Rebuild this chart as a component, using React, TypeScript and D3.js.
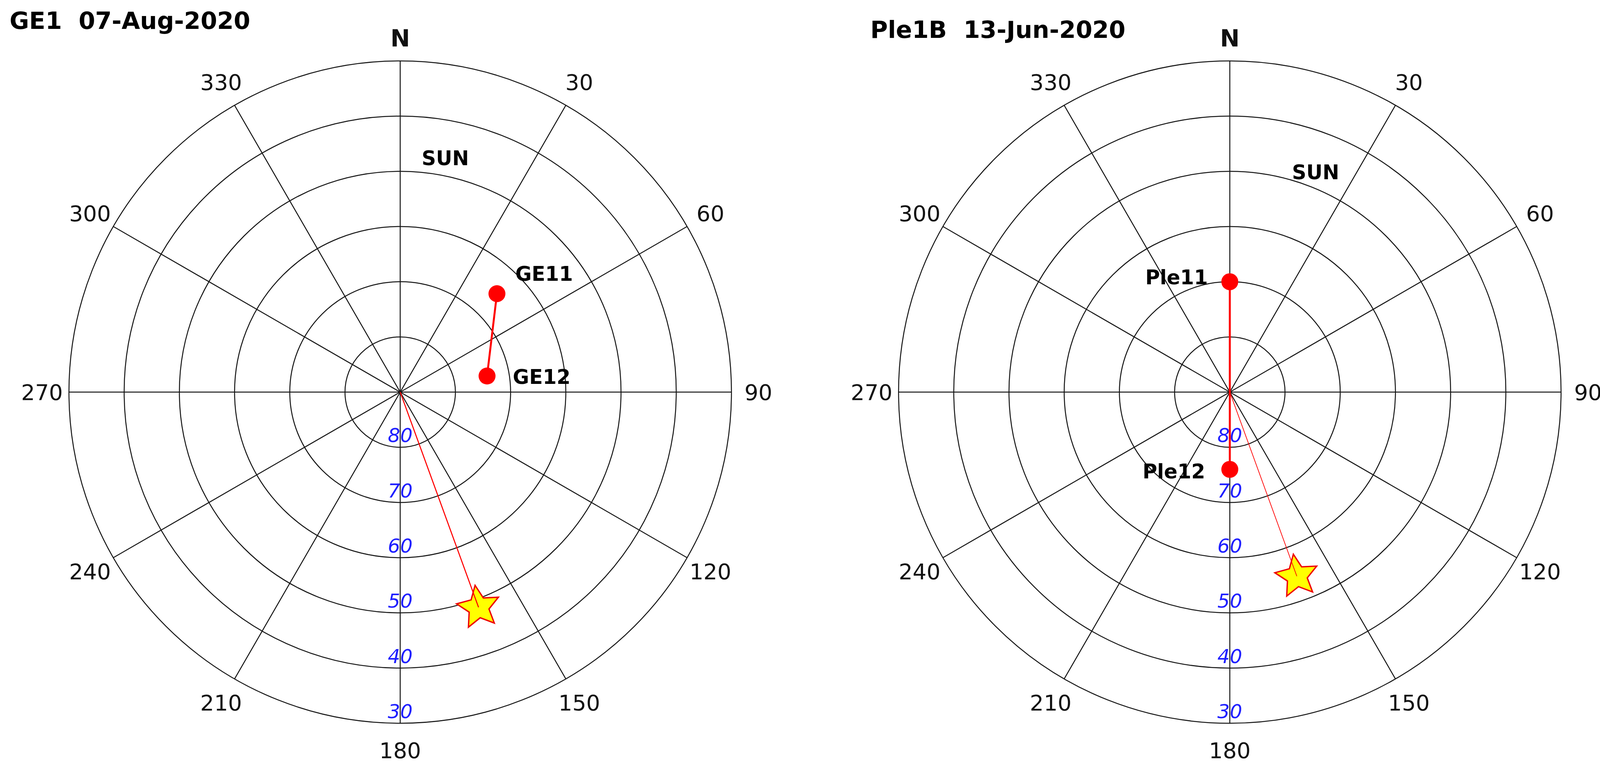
import React from "react";
import * as d3 from "d3";

// ---- data ----
const panelNames = ["GE1", "Ple1B"];
const panelDates = ["07-Aug-2020", "13-Jun-2020"];
const satNames = [["GE11", "GE12"], ["Ple11", "Ple12"]];
const satAzimuth = [[44.5, 79.5], [0, 180]];
const satElevation = [[65, 74], [70, 76]];
const sunAzimuth = [160, 160];
const sunElevation = [48.5, 54.5];
const sunLabel = "SUN";
const sunLabelAzimuth = [10.9, 21.3];
const sunLabelElevation = [46.8, 47.2];
const azimuthTicks = [0, 30, 60, 90, 120, 150, 180, 210, 240, 270, 300, 330];
const azimuthLabels = ["N", "30", "60", "90", "120", "150", "180", "210", "240", "270", "300", "330"];
const elevationTicks = [80, 70, 60, 50, 40, 30];

// ---- layout ----
const W = 4120;
const H = 1964;
const centers = [
  [1024.5, 1004],
  [3148.3, 1004],
];
const R = 848;
const titlePos = [
  [24.5, 74],
  [2228, 97],
];
// label offsets relative to satellite dot: [dx, dy, anchor]
const satLabelOffsets: [number, number, string][][] = [
  [
    [47, -33, "start"],
    [66, 20, "start"],
  ],
  [
    [-56, 7, "end"],
    [-63, 23, "end"],
  ],
];
const sunLineWidth = [2.7, 1.8];
const FONT = "'DejaVu Sans', Verdana, sans-serif";
const GRID = "#151515";
const GRID_W = 2.5;

const rScale = d3.scaleLinear().domain([90, 30]).range([0, R]);
const aScale = d3.scaleLinear().domain([0, 360]).range([0, 2 * Math.PI]);

function pos(az: number, el: number): [number, number] {
  const r = rScale(el);
  const a = aScale(az);
  return [r * Math.sin(a), -r * Math.cos(a)];
}

const starOuter = 57;
const starInner = 27;
const starRot = -9;
const starPts: [number, number][] = d3.range(10).map((i) => [
  aScale(starRot + i * 36),
  i % 2 === 0 ? starOuter : starInner,
]);
const starPath = d3.lineRadial().curve(d3.curveLinearClosed)(starPts as any) as string;

function Panel({ i }: { i: number }) {
  const [cx, cy] = centers[i];
  const tickFs = 56;
  const labR = 917;
  const sats = satNames[i].map((n, k) => {
    const [x, y] = pos(satAzimuth[i][k], satElevation[i][k]);
    return { n, x, y, off: satLabelOffsets[i][k] };
  });
  const [sx, sy] = pos(sunAzimuth[i], sunElevation[i]);
  const [lx, ly] = pos(sunLabelAzimuth[i], sunLabelElevation[i]);
  const line = d3.line();
  return (
    <g>
      <text
        x={titlePos[i][0]}
        y={titlePos[i][1]}
        fontFamily={FONT}
        fontWeight="bold"
        fontSize={61}
        style={{ whiteSpace: "pre" }}
      >
        {panelNames[i] + "  " + panelDates[i]}
      </text>
      <g transform={`translate(${cx},${cy})`}>
        {elevationTicks.map((e) => (
          <circle key={e} r={rScale(e)} fill="none" stroke={GRID} strokeWidth={GRID_W} />
        ))}
        {azimuthTicks.map((a) => {
          const [x, y] = pos(a, 30);
          return <line key={a} x1={0} y1={0} x2={x} y2={y} stroke={GRID} strokeWidth={GRID_W} />;
        })}
        {azimuthTicks.map((a, k) => {
          const ang = aScale(a);
          const rr = a === 0 ? 907 : labR;
          const fs = a === 0 ? 60 : tickFs;
          const x = rr * Math.sin(ang);
          const y = -rr * Math.cos(ang) + 0.365 * fs;
          return (
            <text
              key={a}
              x={x}
              y={y}
              textAnchor="middle"
              fontFamily={FONT}
              fontWeight={a === 0 ? "bold" : "normal"}
              fontSize={fs}
              fill="#111"
            >
              {azimuthLabels[k]}
            </text>
          );
        })}
        {elevationTicks.map((e) => (
          <text
            key={e}
            x={0}
            y={rScale(e) - 13}
            textAnchor="middle"
            fontFamily={FONT}
            fontStyle="italic"
            fontSize={50}
            fill="#1f1fff"
          >
            {e}
          </text>
        ))}
        <path
          d={line(sats.map((s) => [s.x, s.y]) as [number, number][]) as string}
          fill="none"
          stroke="#ff0000"
          strokeWidth={5}
        />
        {sats.map((s) => (
          <circle key={s.n} cx={s.x} cy={s.y} r={21.7} fill="#ff0000" />
        ))}
        {sats.map((s) => (
          <text
            key={s.n + "l"}
            x={s.x + s.off[0]}
            y={s.y + s.off[1]}
            textAnchor={s.off[2] as any}
            fontFamily={FONT}
            fontWeight="bold"
            fontSize={51}
            fill="#000"
          >
            {s.n}
          </text>
        ))}
        <path
          d={starPath}
          transform={`translate(${sx},${sy})`}
          fill="#ffff00"
          stroke="#ee0000"
          strokeWidth={3.5}
          strokeLinejoin="miter"
        />
        <line x1={0} y1={0} x2={sx} y2={sy} stroke="#ff0000" strokeWidth={sunLineWidth[i]} />
        <text
          x={lx}
          y={ly + 0.365 * 51}
          textAnchor="middle"
          fontFamily={FONT}
          fontWeight="bold"
          fontSize={51}
          fill="#000"
        >
          {sunLabel}
        </text>
      </g>
    </g>
  );
}

export default function App() {
  return (
    <svg
      width={W}
      height={H}
      viewBox={`0 0 ${W} ${H}`}
      style={{ position: "absolute", left: 0, top: 0, background: "#fff" }}
    >
      <rect width={W} height={H} fill="#fff" />
      {panelNames.map((_, i) => (
        <Panel key={i} i={i} />
      ))}
    </svg>
  );
}
